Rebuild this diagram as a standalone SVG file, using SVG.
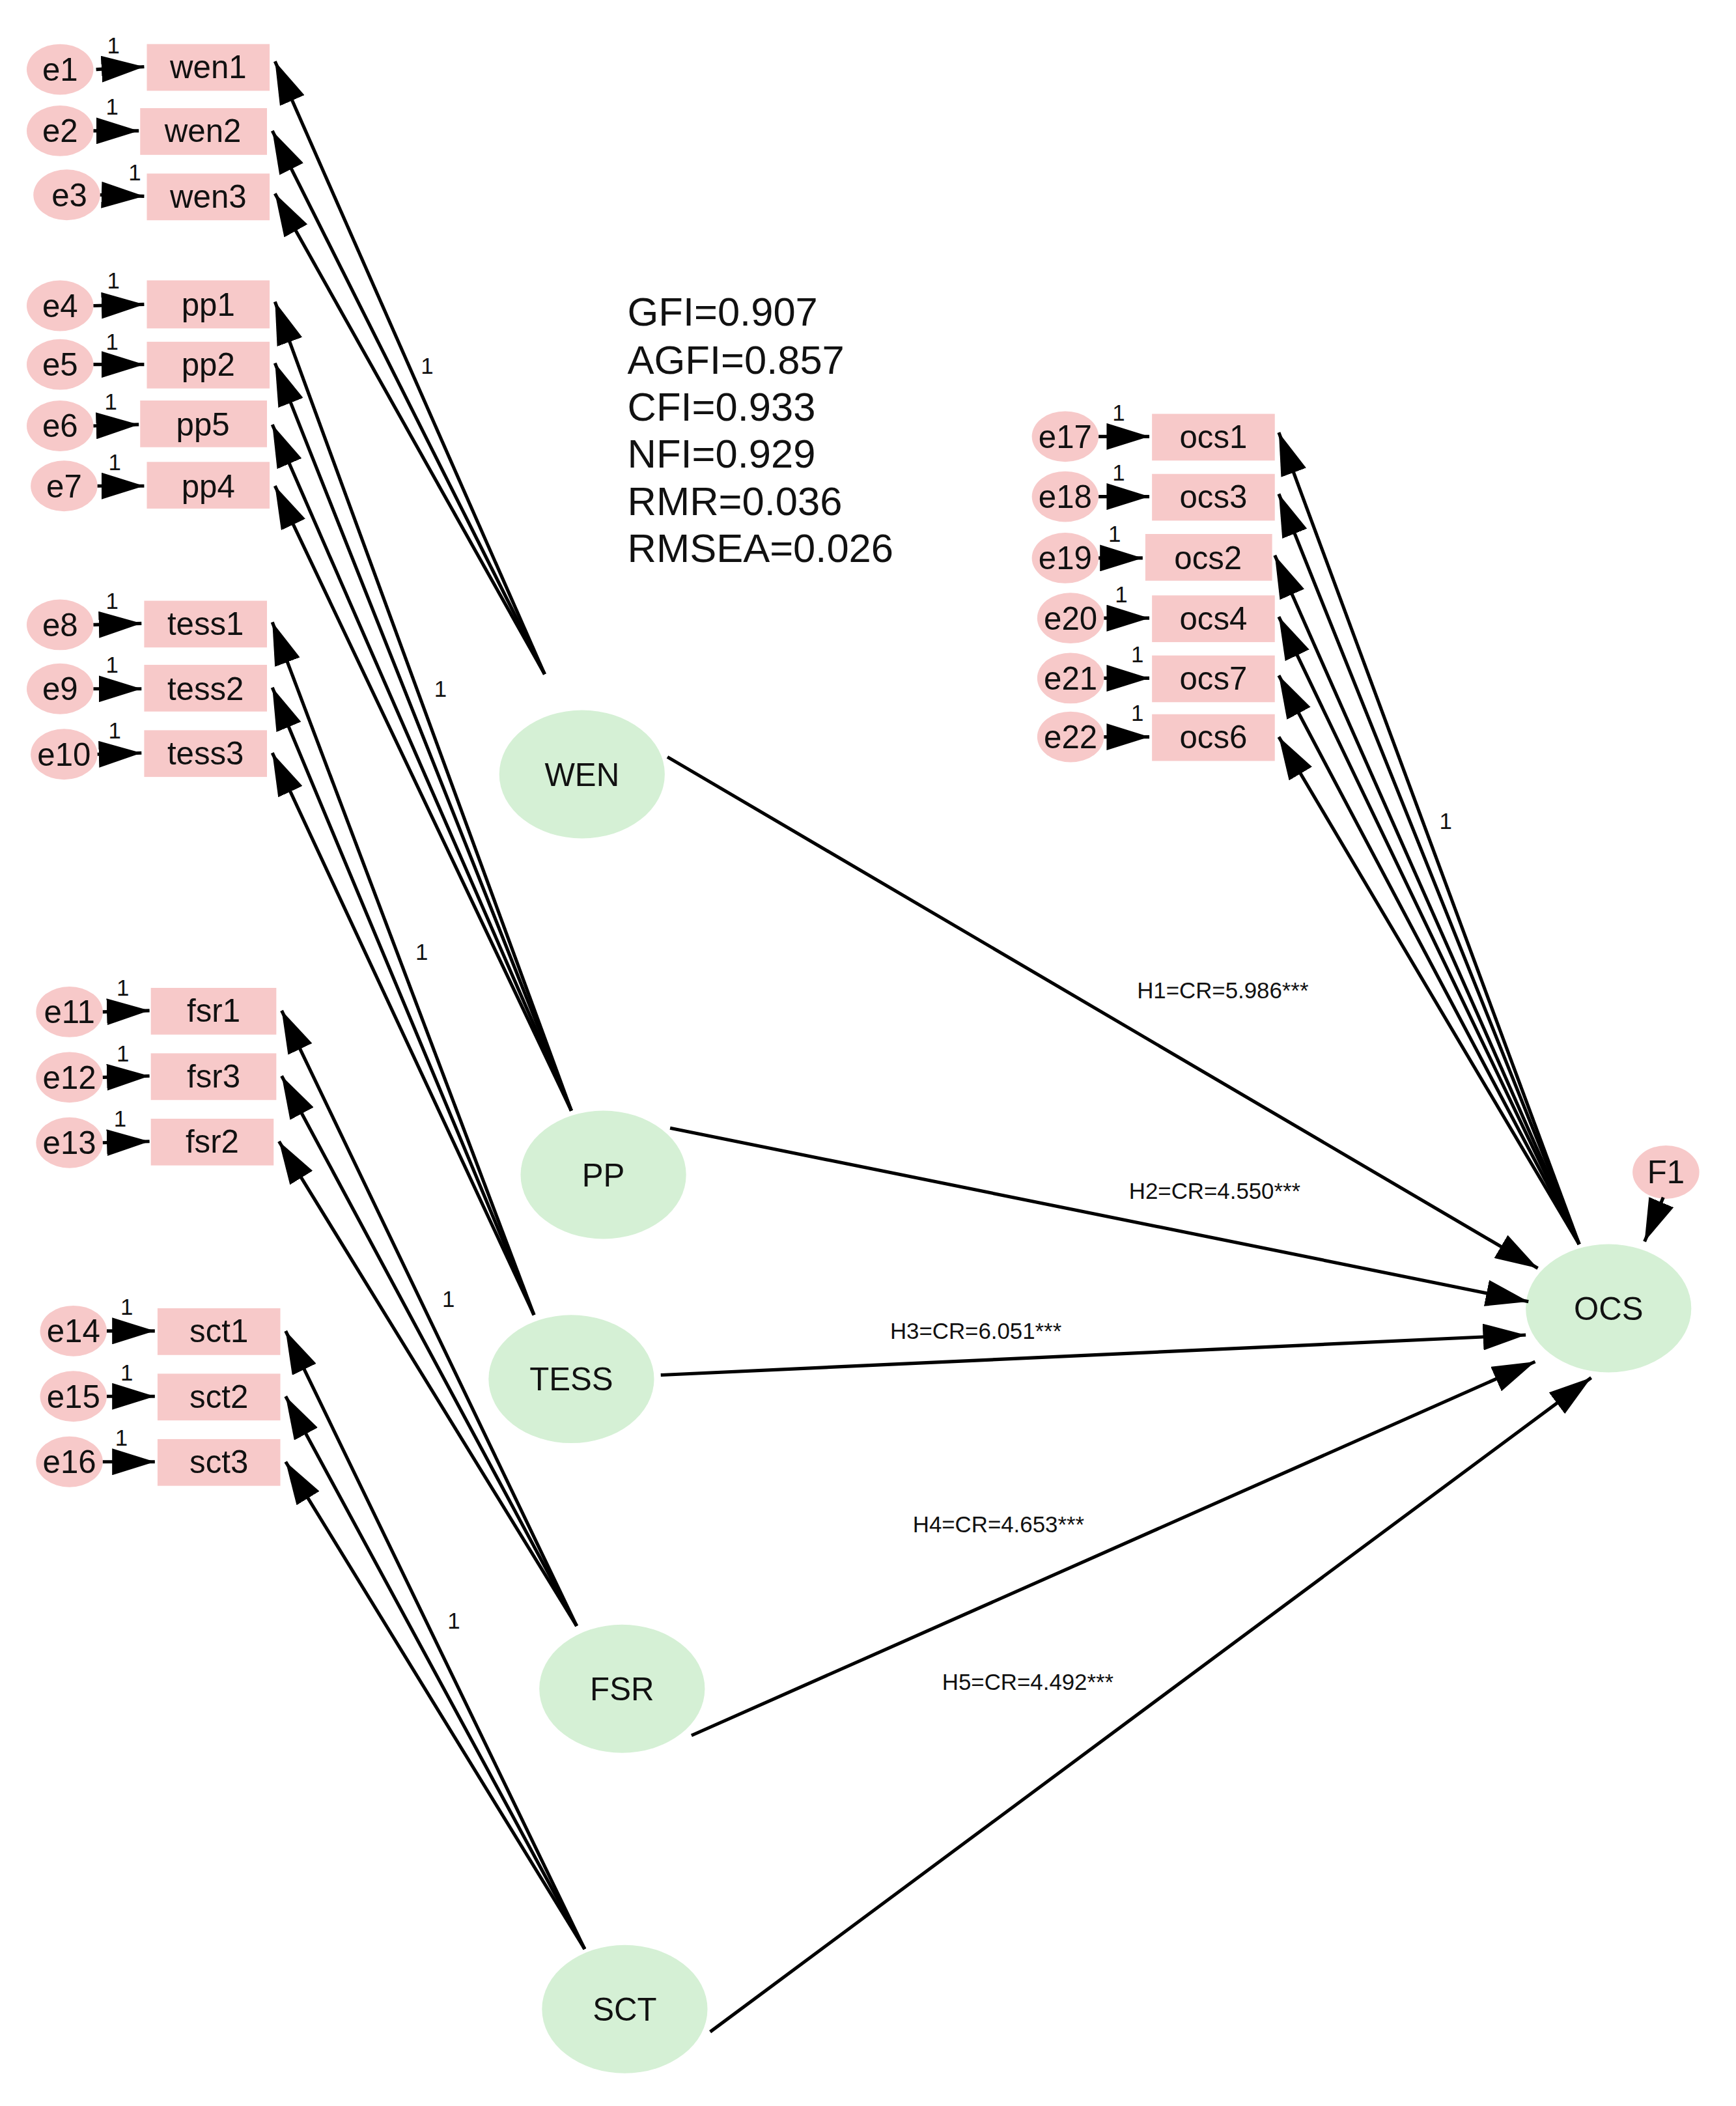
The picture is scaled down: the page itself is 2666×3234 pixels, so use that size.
<svg xmlns="http://www.w3.org/2000/svg" width="2666" height="3234" viewBox="0 0 2666 3234">
<style>
.e{fill:#f7c9c9}.r{fill:#f7c9c9}.l{fill:#d5f0d5}
text{font-family:"Liberation Sans",Arial,sans-serif;fill:#111}
.t{font-size:24px;text-anchor:middle;dominant-baseline:central}
.s{font-size:17px;text-anchor:middle}
.f{font-size:30px}
.c line{stroke:#000;stroke-width:2.5;marker-end:url(#a)}
</style>
<defs><marker id="a" markerUnits="userSpaceOnUse" markerWidth="34" markerHeight="20" refX="32" refY="10" orient="auto"><path d="M0,0 L32,10 L0,20 Z" fill="#000"/></marker></defs>
<rect width="2666" height="3234" fill="#fff"/>
<g transform="scale(2.05)">
<g id="nodes">
<g id="e1"><ellipse class="e" cx="45" cy="52" rx="25" ry="19"/><text class="t" x="45" y="52">e1</text></g>
<g id="e2"><ellipse class="e" cx="45" cy="98" rx="25" ry="19"/><text class="t" x="45" y="98">e2</text></g>
<g id="e3"><ellipse class="e" cx="50" cy="146" rx="25" ry="19"/><text class="t" x="52" y="146">e3</text></g>
<g id="e4"><ellipse class="e" cx="45" cy="229" rx="25" ry="19"/><text class="t" x="45" y="229">e4</text></g>
<g id="e5"><ellipse class="e" cx="45" cy="273" rx="25" ry="19"/><text class="t" x="45" y="273">e5</text></g>
<g id="e6"><ellipse class="e" cx="45" cy="319" rx="25" ry="19"/><text class="t" x="45" y="319">e6</text></g>
<g id="e7"><ellipse class="e" cx="48" cy="364" rx="25" ry="19"/><text class="t" x="48" y="364">e7</text></g>
<g id="e8"><ellipse class="e" cx="45" cy="468" rx="25" ry="19"/><text class="t" x="45" y="468">e8</text></g>
<g id="e9"><ellipse class="e" cx="45" cy="516" rx="25" ry="19"/><text class="t" x="45" y="516">e9</text></g>
<g id="e10"><ellipse class="e" cx="48" cy="565" rx="25" ry="19"/><text class="t" x="48" y="565">e10</text></g>
<g id="e11"><ellipse class="e" cx="52" cy="758" rx="25" ry="19"/><text class="t" x="52" y="758">e11</text></g>
<g id="e12"><ellipse class="e" cx="52" cy="807" rx="25" ry="19"/><text class="t" x="52" y="807">e12</text></g>
<g id="e13"><ellipse class="e" cx="52" cy="856" rx="25" ry="19"/><text class="t" x="52" y="856">e13</text></g>
<g id="e14"><ellipse class="e" cx="55" cy="997" rx="25" ry="19"/><text class="t" x="55" y="997">e14</text></g>
<g id="e15"><ellipse class="e" cx="55" cy="1046" rx="25" ry="19"/><text class="t" x="55" y="1046">e15</text></g>
<g id="e16"><ellipse class="e" cx="52" cy="1095" rx="25" ry="19"/><text class="t" x="52" y="1095">e16</text></g>
<g id="e17"><ellipse class="e" cx="798" cy="327" rx="25" ry="19"/><text class="t" x="798" y="327">e17</text></g>
<g id="e18"><ellipse class="e" cx="798" cy="372" rx="25" ry="19"/><text class="t" x="798" y="372">e18</text></g>
<g id="e19"><ellipse class="e" cx="798" cy="418" rx="25" ry="19"/><text class="t" x="798" y="418">e19</text></g>
<g id="e20"><ellipse class="e" cx="802" cy="463" rx="25" ry="19"/><text class="t" x="802" y="463">e20</text></g>
<g id="e21"><ellipse class="e" cx="802" cy="508" rx="25" ry="19"/><text class="t" x="802" y="508">e21</text></g>
<g id="e22"><ellipse class="e" cx="802" cy="552" rx="25" ry="19"/><text class="t" x="802" y="552">e22</text></g>
<g id="F1"><ellipse class="e" cx="1248" cy="878" rx="25" ry="20"/><text class="t" x="1248" y="878">F1</text></g>

<g id="wen1"><rect class="r" x="110" y="33" width="92" height="35"/><text class="t" x="156" y="50">wen1</text></g>
<g id="wen2"><rect class="r" x="105" y="81" width="95" height="35"/><text class="t" x="152" y="98">wen2</text></g>
<g id="wen3"><rect class="r" x="110" y="130" width="92" height="35"/><text class="t" x="156" y="147">wen3</text></g>
<g id="pp1"><rect class="r" x="110" y="210" width="92" height="36"/><text class="t" x="156" y="228">pp1</text></g>
<g id="pp2"><rect class="r" x="110" y="256" width="92" height="35"/><text class="t" x="156" y="273">pp2</text></g>
<g id="pp5"><rect class="r" x="105" y="300" width="95" height="35"/><text class="t" x="152" y="318">pp5</text></g>
<g id="pp4"><rect class="r" x="110" y="346" width="92" height="35"/><text class="t" x="156" y="364">pp4</text></g>
<g id="tess1"><rect class="r" x="108" y="450" width="92" height="35"/><text class="t" x="154" y="467">tess1</text></g>
<g id="tess2"><rect class="r" x="108" y="498" width="92" height="35"/><text class="t" x="154" y="516">tess2</text></g>
<g id="tess3"><rect class="r" x="108" y="547" width="92" height="35"/><text class="t" x="154" y="564">tess3</text></g>
<g id="fsr1"><rect class="r" x="113" y="740" width="94" height="35"/><text class="t" x="160" y="757">fsr1</text></g>
<g id="fsr3"><rect class="r" x="113" y="789" width="94" height="35"/><text class="t" x="160" y="806">fsr3</text></g>
<g id="fsr2"><rect class="r" x="113" y="838" width="92" height="35"/><text class="t" x="159" y="855">fsr2</text></g>
<g id="sct1"><rect class="r" x="118" y="980" width="92" height="35"/><text class="t" x="164" y="997">sct1</text></g>
<g id="sct2"><rect class="r" x="118" y="1029" width="92" height="35"/><text class="t" x="164" y="1046">sct2</text></g>
<g id="sct3"><rect class="r" x="118" y="1078" width="92" height="35"/><text class="t" x="164" y="1095">sct3</text></g>
<g id="ocs1"><rect class="r" x="863" y="310" width="92" height="35"/><text class="t" x="909" y="327">ocs1</text></g>
<g id="ocs3"><rect class="r" x="863" y="355" width="92" height="35"/><text class="t" x="909" y="372">ocs3</text></g>
<g id="ocs2"><rect class="r" x="858" y="400" width="95" height="35"/><text class="t" x="905" y="418">ocs2</text></g>
<g id="ocs4"><rect class="r" x="863" y="446" width="92" height="35"/><text class="t" x="909" y="463">ocs4</text></g>
<g id="ocs7"><rect class="r" x="863" y="491" width="92" height="35"/><text class="t" x="909" y="508">ocs7</text></g>
<g id="ocs6"><rect class="r" x="863" y="535" width="92" height="35"/><text class="t" x="909" y="552">ocs6</text></g>

<g id="WEN"><ellipse class="l" cx="436" cy="580" rx="62" ry="48"/><text class="t" x="436" y="580">WEN</text></g>
<g id="PP"><ellipse class="l" cx="452" cy="880" rx="62" ry="48"/><text class="t" x="452" y="880">PP</text></g>
<g id="TESS"><ellipse class="l" cx="428" cy="1033" rx="62" ry="48"/><text class="t" x="428" y="1033">TESS</text></g>
<g id="FSR"><ellipse class="l" cx="466" cy="1265" rx="62" ry="48"/><text class="t" x="466" y="1265">FSR</text></g>
<g id="SCT"><ellipse class="l" cx="468" cy="1505" rx="62" ry="48"/><text class="t" x="468" y="1505">SCT</text></g>
<g id="OCS"><ellipse class="l" cx="1205" cy="980" rx="62" ry="48"/><text class="t" x="1205" y="980">OCS</text></g>
</g>
<g id="connectors" class="c">
<line x1="72" y1="52" x2="108" y2="50"/><line x1="70" y1="98" x2="104" y2="98"/><line x1="75" y1="146" x2="108" y2="147"/>
<line x1="70" y1="229" x2="108" y2="228"/><line x1="70" y1="273" x2="108" y2="273"/><line x1="70" y1="319" x2="104" y2="318"/><line x1="73" y1="364" x2="108" y2="364"/>
<line x1="70" y1="468" x2="106" y2="467"/><line x1="70" y1="516" x2="106" y2="516"/><line x1="73" y1="565" x2="106" y2="564"/>
<line x1="77" y1="758" x2="112" y2="757"/><line x1="77" y1="807" x2="112" y2="806"/><line x1="77" y1="856" x2="112" y2="855"/>
<line x1="80" y1="997" x2="116" y2="997"/><line x1="80" y1="1046" x2="116" y2="1046"/><line x1="77" y1="1095" x2="116" y2="1095"/>
<line x1="823" y1="327" x2="861" y2="327"/><line x1="823" y1="372" x2="861" y2="372"/><line x1="823" y1="418" x2="856" y2="418"/><line x1="827" y1="463" x2="861" y2="463"/><line x1="827" y1="508" x2="861" y2="508"/><line x1="827" y1="552" x2="861" y2="552"/>
<line x1="408" y1="505" x2="206" y2="46"/><line x1="408" y1="505" x2="204" y2="98"/><line x1="408" y1="505" x2="206" y2="145"/>
<line x1="428" y1="832" x2="206" y2="226"/><line x1="428" y1="832" x2="206" y2="272"/><line x1="428" y1="832" x2="204" y2="318"/><line x1="428" y1="832" x2="206" y2="364"/>
<line x1="400" y1="985" x2="204" y2="466"/><line x1="400" y1="985" x2="204" y2="515"/><line x1="400" y1="985" x2="204" y2="564"/>
<line x1="432" y1="1218" x2="211" y2="757"/><line x1="432" y1="1218" x2="211" y2="806"/><line x1="432" y1="1218" x2="209" y2="855"/>
<line x1="438" y1="1460" x2="214" y2="997"/><line x1="438" y1="1460" x2="214" y2="1046"/><line x1="438" y1="1460" x2="214" y2="1095"/>
<line x1="1183" y1="932" x2="958" y2="324"/><line x1="1183" y1="932" x2="958" y2="370"/><line x1="1183" y1="932" x2="955" y2="416"/><line x1="1183" y1="932" x2="958" y2="462"/><line x1="1183" y1="932" x2="958" y2="506"/><line x1="1183" y1="932" x2="958" y2="552"/>
<line x1="500" y1="567" x2="1152" y2="950"/><line x1="502" y1="845" x2="1145" y2="975"/><line x1="495" y1="1030" x2="1143" y2="1000"/><line x1="518" y1="1300" x2="1150" y2="1020"/><line x1="532" y1="1522" x2="1192" y2="1032"/>
<line x1="1246" y1="897" x2="1232" y2="930"/>
</g>
<g id="labels">
<text class="s" x="85" y="40">1</text><text class="s" x="84" y="86">1</text><text class="s" x="101" y="135">1</text>
<text class="s" x="85" y="216">1</text><text class="s" x="84" y="262">1</text><text class="s" x="83" y="307">1</text><text class="s" x="86" y="352">1</text>
<text class="s" x="84" y="456">1</text><text class="s" x="84" y="504">1</text><text class="s" x="86" y="553">1</text>
<text class="s" x="92" y="746">1</text><text class="s" x="92" y="795">1</text><text class="s" x="90" y="844">1</text>
<text class="s" x="95" y="985">1</text><text class="s" x="95" y="1034">1</text><text class="s" x="91" y="1083">1</text>
<text class="s" x="838" y="315">1</text><text class="s" x="838" y="360">1</text><text class="s" x="835" y="406">1</text><text class="s" x="840" y="451">1</text><text class="s" x="852" y="496">1</text><text class="s" x="852" y="540">1</text>
<text class="s" x="320" y="280">1</text><text class="s" x="330" y="522">1</text><text class="s" x="316" y="719">1</text><text class="s" x="336" y="979">1</text><text class="s" x="340" y="1220">1</text><text class="s" x="1083" y="621">1</text>
<text class="s" x="916" y="748">H1=CR=5.986***</text><text class="s" x="910" y="898">H2=CR=4.550***</text><text class="s" x="731" y="1003">H3=CR=6.051***</text><text class="s" x="748" y="1148">H4=CR=4.653***</text><text class="s" x="770" y="1266">H5=CR=4.492***</text>
<text class="f" x="470" y="244">GFI=0.907</text><text class="f" x="470" y="280">AGFI=0.857</text><text class="f" x="470" y="315">CFI=0.933</text><text class="f" x="470" y="350">NFI=0.929</text><text class="f" x="470" y="386">RMR=0.036</text><text class="f" x="470" y="421">RMSEA=0.026</text>
</g>
</g>
</svg>
